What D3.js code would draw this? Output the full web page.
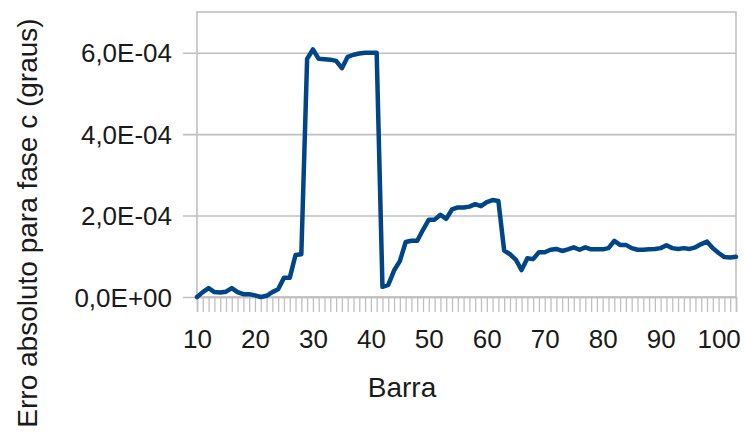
<!DOCTYPE html>
<html>
<head>
<meta charset="utf-8">
<script src="https://cdn.jsdelivr.net/npm/d3@7"></script>
<style>
  html, body { margin: 0; padding: 0; background: #ffffff; }
  svg { display: block; font-family: "Liberation Sans", Arial, sans-serif; }
</style>
</head>
<body>
<svg id="chart" width="744" height="439"></svg>
<script>
// Bus numbers (categories) 10..103
const barras = [
  10, 11, 12, 13, 14, 15, 16, 17, 18, 19,
  20, 21, 22, 23, 24, 25, 26, 27, 28, 29,
  30, 31, 32, 33, 34, 35, 36, 37, 38, 39,
  40, 41, 42, 43, 44, 45, 46, 47, 48, 49,
  50, 51, 52, 53, 54, 55, 56, 57, 58, 59,
  60, 61, 62, 63, 64, 65, 66, 67, 68, 69,
  70, 71, 72, 73, 74, 75, 76, 77, 78, 79,
  80, 81, 82, 83, 84, 85, 86, 87, 88, 89,
  90, 91, 92, 93, 94, 95, 96, 97, 98, 99,
  100, 101, 102, 103
];

// Absolute error for phase c (degrees), one value per bus
const erroFaseC = [
  0.00e-4, 0.12e-4, 0.22e-4, 0.12e-4, 0.11e-4, 0.13e-4, 0.22e-4, 0.12e-4, 0.07e-4, 0.07e-4,
  0.04e-4, 0.00e-4, 0.03e-4, 0.12e-4, 0.19e-4, 0.47e-4, 0.47e-4, 1.03e-4, 1.05e-4, 5.85e-4,
  6.08e-4, 5.85e-4, 5.84e-4, 5.83e-4, 5.80e-4, 5.62e-4, 5.90e-4, 5.95e-4, 5.98e-4, 6.00e-4,
  6.00e-4, 6.00e-4, 0.25e-4, 0.30e-4, 0.65e-4, 0.88e-4, 1.35e-4, 1.38e-4, 1.38e-4, 1.65e-4,
  1.90e-4, 1.90e-4, 2.02e-4, 1.92e-4, 2.15e-4, 2.20e-4, 2.20e-4, 2.22e-4, 2.28e-4, 2.23e-4,
  2.33e-4, 2.38e-4, 2.36e-4, 1.14e-4, 1.05e-4, 0.92e-4, 0.66e-4, 0.95e-4, 0.93e-4, 1.10e-4,
  1.10e-4, 1.16e-4, 1.18e-4, 1.13e-4, 1.17e-4, 1.22e-4, 1.16e-4, 1.22e-4, 1.17e-4, 1.17e-4,
  1.17e-4, 1.20e-4, 1.38e-4, 1.28e-4, 1.28e-4, 1.20e-4, 1.16e-4, 1.16e-4, 1.17e-4, 1.18e-4,
  1.20e-4, 1.27e-4, 1.20e-4, 1.18e-4, 1.20e-4, 1.18e-4, 1.22e-4, 1.30e-4, 1.36e-4, 1.20e-4,
  1.08e-4, 0.98e-4, 0.97e-4, 0.99e-4
];

// Axis ticks and labels
const yTicks = [0, 2e-4, 4e-4, 6e-4];
const xLabelBarras = [10, 20, 30, 40, 50, 60, 70, 80, 90, 100];
const yMax = 7e-4;
const xTitle = "Barra";
const yTitle = "Erro absoluto para fase c (graus)";

const svg = d3.select("#chart");
const plot = { left: 197, right: 736, top: 12, bottom: 297 };
const gridColor = "#c0c0c0";
const textColor = "#1a1a1a";

const x = d3.scalePoint().domain(barras).range([plot.left, plot.right]);
const y = d3.scaleLinear().domain([0, yMax]).range([plot.bottom, plot.top]);

// Scientific format with decimal comma, e.g. 6,0E-04
function sciComma(v) {
  if (v === 0) return "0,0E+00";
  const [m, e] = v.toExponential(1).split("e");
  const ev = +e;
  const sign = ev < 0 ? "-" : "+";
  return m.replace(".", ",") + "E" + sign + String(Math.abs(ev)).padStart(2, "0");
}

// Horizontal gridlines with outer ticks
const yAxis = d3.axisLeft(y)
  .tickValues(yTicks)
  .tickSize(plot.right - plot.left + 14)
  .tickFormat(sciComma)
  .tickPadding(11);

const gy = svg.append("g")
  .attr("transform", `translate(${plot.right},0)`)
  .call(yAxis);
gy.select(".domain").remove();
gy.selectAll(".tick line")
  .attr("stroke", gridColor)
  .attr("stroke-width", 1.6);
gy.selectAll(".tick text")
  .attr("fill", textColor)
  .style("font-size", "26px")
  .attr("dy", "0.35em");

// Plot frame
svg.append("rect")
  .attr("x", plot.left)
  .attr("y", plot.top)
  .attr("width", plot.right - plot.left)
  .attr("height", plot.bottom - plot.top)
  .attr("fill", "none")
  .attr("stroke", gridColor)
  .attr("stroke-width", 1.6);

// Category axis: a tick for every bus, labels every ten
const xAxis = d3.axisBottom(x)
  .tickSize(15)
  .tickPadding(18)
  .tickFormat(d => xLabelBarras.includes(d) ? String(d) : "");

const gx = svg.append("g")
  .attr("transform", `translate(0,${plot.bottom})`)
  .call(xAxis);
gx.select(".domain")
  .attr("stroke", gridColor)
  .attr("stroke-width", 1.6);
gx.selectAll(".tick line")
  .attr("stroke", gridColor)
  .attr("stroke-width", 1.3);
gx.selectAll(".tick text")
  .attr("fill", textColor)
  .style("font-size", "26px");

// Data line
const line = d3.line()
  .x((d, i) => x(barras[i]))
  .y(d => y(d));

svg.append("path")
  .datum(erroFaseC)
  .attr("d", line)
  .attr("fill", "none")
  .attr("stroke", "#004586")
  .attr("stroke-width", 4.5)
  .attr("stroke-linejoin", "round")
  .attr("stroke-linecap", "round");

// Axis titles
svg.append("text")
  .attr("x", 402)
  .attr("y", 397)
  .attr("text-anchor", "middle")
  .attr("fill", textColor)
  .style("font-size", "28px")
  .text(xTitle);

svg.append("text")
  .attr("transform", "translate(37,223) rotate(-90)")
  .attr("text-anchor", "middle")
  .attr("fill", textColor)
  .style("font-size", "28px")
  .text(yTitle);
</script>
</body>
</html>
